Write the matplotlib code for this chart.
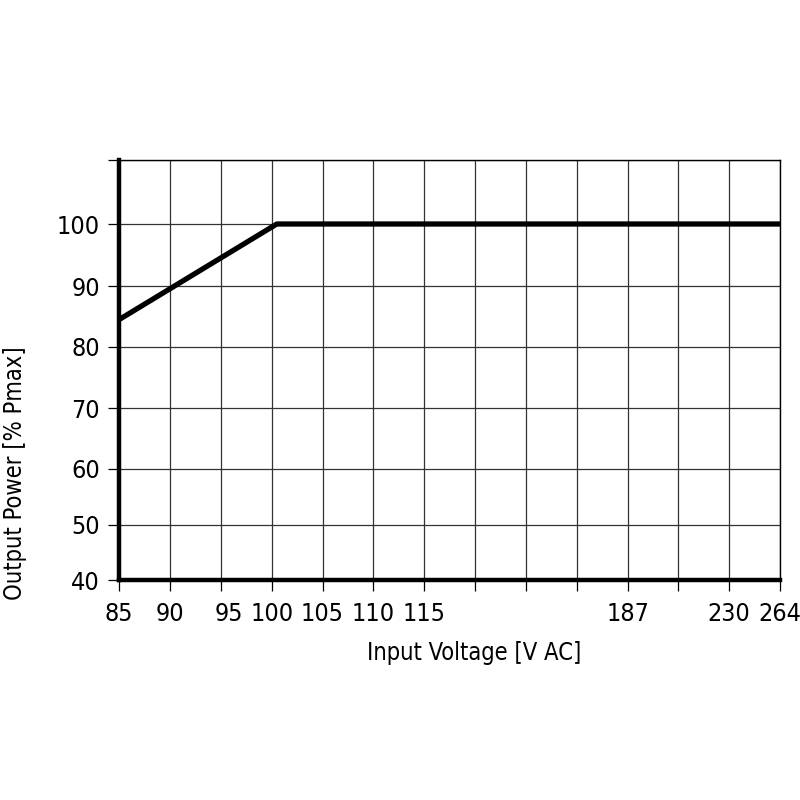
import numpy as np
import matplotlib
matplotlib.use("Agg")
import matplotlib.pyplot as plt
from matplotlib.transforms import ScaledTranslation

plt.rcParams['font.family'] = ['DejaVu Sans']
plt.rcParams['font.stretch'] = 'condensed'

# x axis: labelled voltages and their grid slot
volt_labels = [85, 90, 95, 100, 105, 110, 115, 187, 230, 264]
volt_slots = [0, 1, 2, 3, 4, 5, 6, 10, 12, 13]
n_slots = 14

# y axis: grid values and their (non uniform) spacing on the original sheet
power_ticks = [40, 50, 60, 70, 80, 90, 100, 110]
power_pos = [0, 55, 111, 172, 233, 294, 356, 420]

# derating curve
volt = [85, 100.5, 264]
power = [84.5, 100, 100]


def x_fwd(v):
    return np.interp(v, volt_labels, volt_slots)


def x_inv(s):
    return np.interp(s, volt_slots, volt_labels)


def y_fwd(p):
    return np.interp(p, power_ticks, power_pos)


def y_inv(q):
    return np.interp(q, power_pos, power_ticks)


fig = plt.figure(figsize=(8, 8), dpi=100)
ax = fig.add_axes([0.149, 0.275, 0.826, 0.525])
ax.set_xscale('function', functions=(x_fwd, x_inv))
ax.set_yscale('function', functions=(y_fwd, y_inv))

ax.plot(volt, power, color='black', lw=3.8, solid_capstyle='butt', zorder=3)

ax.set_xlim(85, 264)
ax.set_ylim(40, 110)

xt = x_inv(np.arange(n_slots))
xl = []
for s in range(n_slots):
    xl.append(str(volt_labels[volt_slots.index(s)]) if s in volt_slots else '')
ax.set_xticks(xt)
ax.set_xticklabels(xl)
ax.set_yticks(power_ticks)
ax.set_yticklabels([str(p) for p in power_ticks[:-1]] + [''])

ax.grid(True, color='#333333', lw=0.9)
ax.set_axisbelow(True)
ax.tick_params(direction='out', length=8, width=0.9, labelsize=18, colors='black')
ax.tick_params(axis='x', pad=8)
ax.tick_params(axis='y', pad=6)

# the "95" label sits a bit right of its tick in the original
lab95 = ax.get_xticklabels()[2]
lab95.set_transform(lab95.get_transform() + ScaledTranslation(0.08, 0, fig.dpi_scale_trans))

for side in ['left', 'bottom']:
    ax.spines[side].set_linewidth(3.2)
for side in ['top', 'right']:
    ax.spines[side].set_linewidth(1.0)

ax.set_xlabel('Input Voltage [V AC]', fontsize=17)
ax.xaxis.set_label_coords(0.537, -0.145)
ax.set_ylabel('Output Power [% Pmax]', fontsize=17)
ax.yaxis.set_label_coords(-0.14, 0.255)

fig.savefig('out.png', dpi=100, facecolor='white')
